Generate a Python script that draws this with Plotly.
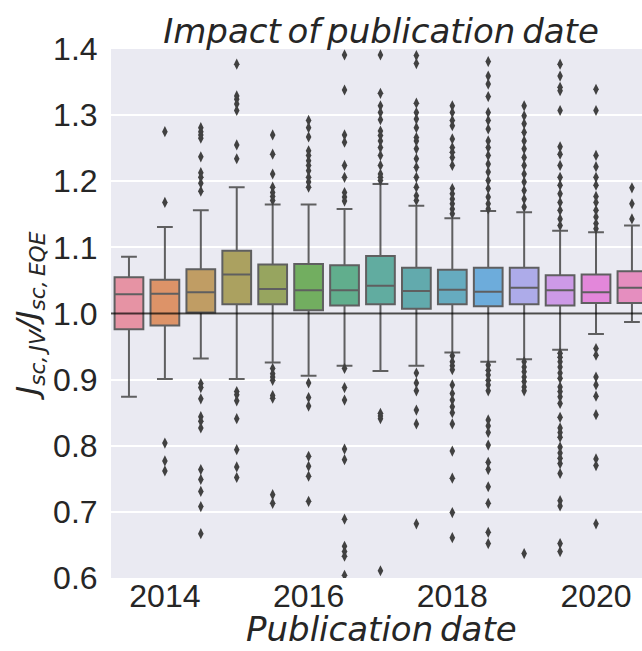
import math
import colorsys
import plotly.graph_objects as go

# ---------------- data ----------------
periods = [2013.5, 2014.0, 2014.5, 2015.0, 2015.5, 2016.0, 2016.5, 2017.0,
           2017.5, 2018.0, 2018.5, 2019.0, 2019.5, 2020.0, 2020.5]
q1 = [0.976, 0.982, 1.0015, 1.014, 1.014, 1.005, 1.012, 1.014,
      1.007, 1.014, 1.011, 1.014, 1.012, 1.016, 1.016]
median = [1.029, 1.030, 1.032, 1.059, 1.037, 1.035, 1.035, 1.042,
          1.034, 1.036, 1.033, 1.039, 1.035, 1.032, 1.039]
q3 = [1.055, 1.051, 1.067, 1.095, 1.074, 1.075, 1.073, 1.087,
      1.069, 1.066, 1.069, 1.069, 1.058, 1.059, 1.064]
whisker_low = [0.874, 0.901, 0.932, 0.901, 0.926, 0.906, 0.921, 0.913,
               0.921, 0.941, 0.927, 0.931, 0.945, 0.969, 0.987]
whisker_high = [1.086, 1.131, 1.156, 1.191, 1.165, 1.165, 1.158, 1.196,
                1.163, 1.144, 1.155, 1.153, 1.125, 1.123, 1.133]
outliers = [
    [],
    [1.275, 1.168, 0.804, 0.777, 0.762],
    [1.281, 1.275, 1.270, 1.265, 1.237, 1.213, 1.206, 1.197, 1.185,
     0.894, 0.888, 0.871, 0.844, 0.837, 0.827, 0.764, 0.749, 0.731, 0.708, 0.667],
    [1.377, 1.329, 1.324, 1.317, 1.307, 1.255, 1.234,
     0.882, 0.877, 0.868, 0.841, 0.794, 0.768, 0.752],
    [1.270, 1.241, 1.211, 1.191, 1.183, 1.177, 1.171,
     0.917, 0.909, 0.904, 0.899, 0.876, 0.872, 0.726, 0.713],
    [1.292, 1.281, 1.267, 1.246, 1.239, 1.231, 1.224, 1.216, 1.206, 1.199, 1.191,
     0.895, 0.873, 0.860, 0.784, 0.769, 0.754, 0.716],
    [1.391, 1.338, 1.270, 1.259, 1.224, 1.206, 1.183, 1.176, 1.170,
     0.917, 0.888, 0.869, 0.795, 0.779, 0.689, 0.648, 0.640, 0.633, 0.604],
    [1.391, 1.333, 1.314, 1.304, 1.293, 1.276, 1.269, 1.261, 1.251, 1.239, 1.224,
     1.211, 1.206, 1.201, 0.849, 0.845, 0.841, 0.611],
    [1.390, 1.378, 1.318, 1.304, 1.294, 1.281, 1.266, 1.261, 1.249, 1.234, 1.221,
     1.206, 1.191, 1.178, 1.171, 0.910, 0.895, 0.883, 0.854, 0.833, 0.682],
    [1.314, 1.304, 1.292, 1.284, 1.264, 1.251, 1.244, 1.236, 1.224, 1.189, 1.181,
     1.173, 1.166, 1.158, 1.151, 0.936, 0.927, 0.921, 0.915, 0.892, 0.879, 0.869,
     0.859, 0.850, 0.833, 0.792, 0.751, 0.699, 0.661],
    [1.381, 1.359, 1.347, 1.328, 1.304, 1.292, 1.279, 1.261, 1.251, 1.239, 1.226,
     1.214, 1.201, 1.189, 1.176, 1.166, 1.158, 0.922, 0.914, 0.907, 0.899, 0.892,
     0.883, 0.839, 0.830, 0.820, 0.801, 0.775, 0.764, 0.738, 0.713, 0.669, 0.652],
    [1.314, 1.299, 1.287, 1.274, 1.261, 1.249, 1.236, 1.224, 1.211, 1.199, 1.186,
     1.173, 1.161, 0.927, 0.919, 0.912, 0.904, 0.897, 0.889, 0.883, 0.637],
    [1.377, 1.359, 1.342, 1.337, 1.307, 1.252, 1.241, 1.224, 1.206, 1.194, 1.181,
     1.168, 1.156, 1.143, 1.133, 0.940, 0.934, 0.927, 0.919, 0.910, 0.902, 0.889,
     0.882, 0.874, 0.864, 0.843, 0.827, 0.820, 0.813, 0.798, 0.789, 0.781, 0.773,
     0.758, 0.717, 0.709, 0.652, 0.640],
    [1.339, 1.307, 1.239, 1.222, 1.206, 1.194, 1.177, 1.168, 1.156, 1.146, 1.136,
     1.128, 0.947, 0.937, 0.904, 0.892, 0.875, 0.847, 0.780, 0.770, 0.682],
    [1.190, 1.166, 1.143],
]
tick_vals = [2014, 2016, 2018, 2020]
tick_text = ["2014", "2016", "2018", "2020"]
y_ticks = [0.6, 0.7, 0.8, 0.9, 1.0, 1.1, 1.2, 1.3, 1.4]
reference_ratio = 1.0

# ---------------- seaborn-like husl palette ----------------
_M = [[3.2406, -1.5372, -0.4986], [-0.9689, 1.8758, 0.0415], [0.0557, -0.2040, 1.0570]]
_refU, _refV = 0.19784, 0.46834
_kappa, _eps = 903.2962962, 0.0088564516


def _max_chroma(L, H):
    hrad = math.radians(H)
    sinH, cosH = math.sin(hrad), math.cos(hrad)
    sub1 = (L + 16) ** 3 / 1560896.0
    sub2 = sub1 if sub1 > _eps else L / _kappa
    result = float("inf")
    for m1, m2, m3 in _M:
        top = (0.99915 * m1 + 1.05122 * m2 + 1.14460 * m3) * sub2
        rb = 0.86330 * m3 - 0.17266 * m2
        lb = 0.12949 * m3 - 0.38848 * m1
        bottom = (rb * sinH + lb * cosH) * sub2
        for t in (0.0, 1.0):
            C = L * (top - 1.05122 * t) / (bottom + 0.17266 * sinH * t)
            if 0 < C < result:
                result = C
    return result


def _f_inv(t):
    return t ** 3 if t ** 3 > _eps else (116 * t - 16) / _kappa


def _from_linear(c):
    return 12.92 * c if c <= 0.0031308 else 1.055 * c ** (1 / 2.4) - 0.055


def husl_to_rgb(h, s, l):
    C = _max_chroma(l, h) / 100.0 * s
    hr = math.radians(h)
    U, V = math.cos(hr) * C, math.sin(hr) * C
    varY = _f_inv((l + 16) / 116.0)
    varU = U / (13 * l) + _refU
    varV = V / (13 * l) + _refV
    Y = varY
    X = 0 - (9 * Y * varU) / ((varU - 4) * varV - varU * varV)
    Z = (9 * Y - 15 * varV * Y - varV * X) / (3 * varV)
    rgb = [_from_linear(r[0] * X + r[1] * Y + r[2] * Z) for r in _M]
    return [min(max(c, 0.0), 1.0) for c in rgb]


def palette(n, h=.01, s=.9, l=.65, desat=.75):
    out = []
    for i in range(n):
        hue = ((i / n + h) % 1) * 359
        r, g, b = husl_to_rgb(hue, s * 99, l * 99)
        hh, ll, ss = colorsys.rgb_to_hls(r, g, b)
        out.append(colorsys.hls_to_rgb(hh, ll, ss * desat))
    return out


cols = palette(len(periods))
lum = min(colorsys.rgb_to_hls(*c)[1] for c in cols) * .6
gray = "rgb({0},{0},{0})".format(int(round(lum * 255)))


def hexc(c):
    return "#%02x%02x%02x" % tuple(int(round(v * 255)) for v in c)


# ---------------- figure ----------------
fig = go.Figure()
for i, p in enumerate(periods):
    fig.add_trace(go.Box(
        x=[p], q1=[q1[i]], median=[median[i]], q3=[q3[i]],
        lowerfence=[whisker_low[i]], upperfence=[whisker_high[i]],
        width=0.4, whiskerwidth=0.55, boxpoints=False,
        fillcolor=hexc(cols[i]), line=dict(color=gray, width=2),
        opacity=0.82, showlegend=False, hoverinfo="y",
    ))
    if outliers[i]:
        fig.add_trace(go.Scatter(
            x=[p] * len(outliers[i]), y=outliers[i], mode="markers",
            marker=dict(symbol="diamond-tall", size=8, color=gray, line=dict(width=0)),
            showlegend=False, hoverinfo="y",
        ))

fig.add_shape(type="line", xref="paper", x0=0, x1=1, yref="y",
              y0=reference_ratio, y1=reference_ratio, layer="above",
              line=dict(color="rgba(0,0,0,0.7)", width=2))

font_main = "Liberation Sans, Arial, sans-serif"
font_ital = "DejaVu Sans, sans-serif"
sp = "\u2009"

fig.update_layout(
    width=642, height=651,
    margin=dict(l=111, r=0, t=49, b=73),
    paper_bgcolor="white", plot_bgcolor="#EAEAF2",
    font=dict(family=font_main, color="#262626", size=32),
    title=dict(text="<i>Impact" + sp + "of" + sp + "publication" + sp + "date</i>",
               x=(381 - 111) / 531, xref="paper",
               xanchor="center", y=1 - 31 / 651, yref="container", yanchor="middle",
               font=dict(family=font_ital, size=34, color="#262626")),
    xaxis=dict(range=[2013.25, 2020.64], tickvals=tick_vals, ticktext=tick_text,
               showgrid=False, zeroline=False, showline=False,
               ticks="", ticklabelstandoff=-4,
               tickfont=dict(size=32)),
    yaxis=dict(range=[0.6, 1.4], tickvals=y_ticks, tickformat=".1f",
               showgrid=True, gridcolor="white", gridwidth=1.5,
               zeroline=False, showline=False,
               ticks="outside", ticklen=6, tickcolor="rgba(0,0,0,0)",
               tickfont=dict(size=32)),
    boxmode="overlay",
)

fig.add_annotation(text="<i>Publication" + sp + "date</i>", xref="paper", yref="paper",
                   x=(381 - 111) / 531, y=(578 - 629) / 529, xanchor="center", yanchor="middle",
                   showarrow=False, font=dict(family=font_ital, size=34, color="#262626"))
fig.add_annotation(text="<i>J</i><sub><i>sc," + sp + "JV</i></sub><i>/J</i><sub><i>sc," + sp + "EQE</i></sub>",
                   xref="paper", yref="paper", x=(30 - 111) / 531, y=(578 - 316) / 529,
                   xanchor="center", yanchor="middle", textangle=-90,
                   showarrow=False, font=dict(family=font_ital, size=31, color="#262626"))

fig.write_html("out.html", config={"displayModeBar": False},
               post_script="document.body.style.margin='0px';")
